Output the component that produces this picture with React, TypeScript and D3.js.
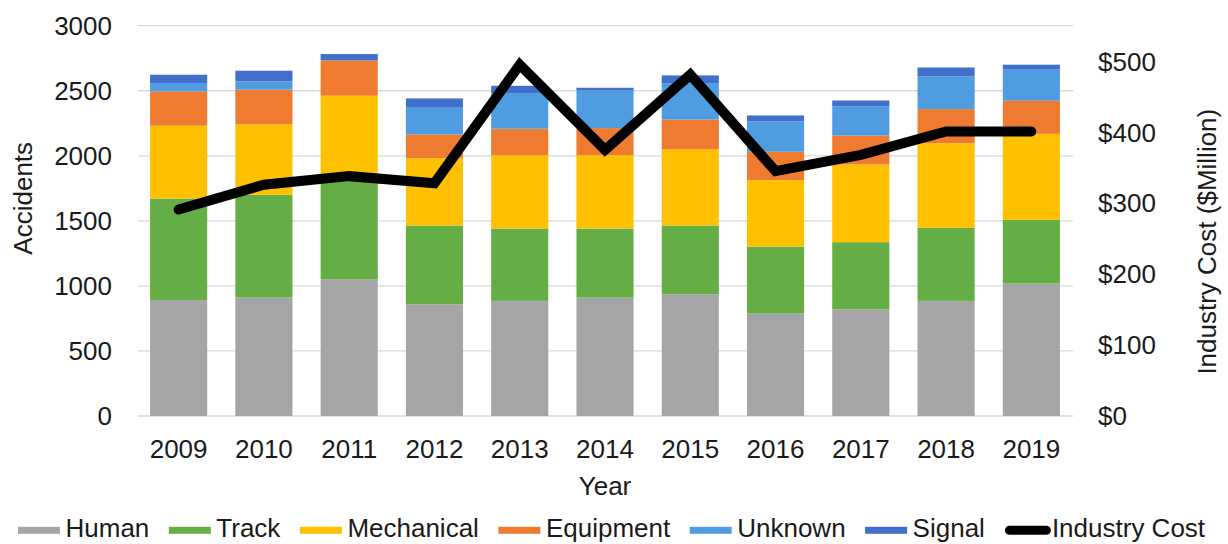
import React, { useEffect, useRef } from "react";
import * as d3 from "d3";

const years: string[] = ["2009", "2010", "2011", "2012", "2013", "2014", "2015", "2016", "2017", "2018", "2019"];

const human: number[] = [892, 910, 1051, 859, 885, 910, 936, 787, 820, 885, 1018];
const track: number[] = [780, 790, 784, 605, 556, 531, 528, 515, 516, 561, 490];
const mechanical: number[] = [559, 541, 627, 518, 564, 564, 587, 511, 597, 651, 661];
const equipment: number[] = [264, 267, 271, 182, 203, 208, 228, 218, 223, 262, 254];
const unknown: number[] = [64, 64, 0, 211, 274, 289, 280, 233, 223, 251, 239];
const signal: number[] = [64, 82, 49, 66, 56, 21, 59, 46, 46, 69, 38];

const industryCost: number[] = [291, 326, 338, 328, 495, 375, 481, 345, 368, 401, 401];

const seriesNames: string[] = ["Human", "Track", "Mechanical", "Equipment", "Unknown", "Signal"];
const seriesColors: string[] = ["#a5a5a5", "#64ae45", "#ffc000", "#ef7b30", "#4f9ce0", "#4070cc"];

const leftTicks: number[] = [0, 500, 1000, 1500, 2000, 2500, 3000];
const rightTicks: number[] = [0, 100, 200, 300, 400, 500];

const FONT = "'Liberation Sans', Arial, Helvetica, sans-serif";

const App: React.FC = () => {
  const svgRef = useRef<SVGSVGElement | null>(null);

  useEffect(() => {
    const svg = d3.select(svgRef.current);
    svg.selectAll("*").remove();

    const width = 1228;
    const height = 544;
    const plot = { left: 136, right: 1074, top: 25.7, bottom: 416 };

    const rows = years.map((y, i) => ({
      year: y,
      Human: human[i],
      Track: track[i],
      Mechanical: mechanical[i],
      Equipment: equipment[i],
      Unknown: unknown[i],
      Signal: signal[i],
    }));

    const stacked = d3.stack<any>().keys(seriesNames)(rows);

    const x = d3
      .scaleBand()
      .domain(years)
      .range([plot.left, plot.right])
      .paddingInner(0.33)
      .paddingOuter(0.165);

    const y = d3.scaleLinear().domain([0, 3000]).range([plot.bottom, plot.top]);
    const yRight = d3.scaleLinear().domain([0, 550]).range([plot.bottom, plot.top]);

    // gridlines
    svg
      .append("g")
      .selectAll("line")
      .data(leftTicks)
      .join("line")
      .attr("x1", plot.left + 2)
      .attr("x2", plot.right - 1)
      .attr("y1", (d) => y(d))
      .attr("y2", (d) => y(d))
      .attr("stroke", "#d9d9d9")
      .attr("stroke-width", 1.3);

    // bars
    svg
      .append("g")
      .selectAll("g")
      .data(stacked)
      .join("g")
      .attr("fill", (_, i) => seriesColors[i])
      .selectAll("rect")
      .data((d) => d)
      .join("rect")
      .attr("x", (d) => x(d.data.year)!)
      .attr("y", (d) => y(d[1]))
      .attr("width", x.bandwidth())
      .attr("height", (d) => Math.max(0, y(d[0]) - y(d[1])));

    // industry cost line
    const line = d3
      .line<number>()
      .x((_, i) => x(years[i])! + x.bandwidth() / 2)
      .y((d) => yRight(d));

    svg
      .append("path")
      .datum(industryCost)
      .attr("d", line)
      .attr("fill", "none")
      .attr("stroke", "#000")
      .attr("stroke-width", 10)
      .attr("stroke-linecap", "round")
      .attr("stroke-linejoin", "miter");

    // left axis labels
    svg
      .append("g")
      .selectAll("text")
      .data(leftTicks)
      .join("text")
      .attr("x", 112)
      .attr("y", (d) => y(d))
      .attr("dy", "0.36em")
      .attr("text-anchor", "end")
      .text((d) => String(d));

    // right axis labels
    svg
      .append("g")
      .selectAll("text")
      .data(rightTicks)
      .join("text")
      .attr("x", 1098)
      .attr("y", (d) => yRight(d))
      .attr("dy", "0.36em")
      .attr("text-anchor", "start")
      .text((d) => "$" + d);

    // x axis labels
    svg
      .append("g")
      .selectAll("text")
      .data(years)
      .join("text")
      .attr("x", (d) => x(d)! + x.bandwidth() / 2)
      .attr("y", 458.3)
      .attr("text-anchor", "middle")
      .text((d) => d);

    // axis titles
    svg
      .append("text")
      .attr("x", (plot.left + plot.right) / 2)
      .attr("y", 495)
      .attr("text-anchor", "middle")
      .text("Year");

    svg
      .append("text")
      .attr("transform", "translate(31.5,198.3) rotate(-90)")
      .attr("text-anchor", "middle")
      .text("Accidents");

    svg
      .append("text")
      .attr("transform", "translate(1216,241.7) rotate(-90)")
      .attr("text-anchor", "middle")
      .text("Industry Cost ($Million)");

    // legend
    const legend = svg.append("g");
    const items = [
      ...seriesNames.map((n, i) => ({ name: n, color: seriesColors[i], isLine: false })),
      { name: "Industry Cost", color: "#000", isLine: true },
    ];
    let cx = 18;
    const baseY = 537;
    const swatchY = 530.3;
    items.forEach((it) => {
      if (it.isLine) {
        legend
          .append("line")
          .attr("x1", cx + 5)
          .attr("x2", cx + 42)
          .attr("y1", swatchY)
          .attr("y2", swatchY)
          .attr("stroke", it.color)
          .attr("stroke-width", 9)
          .attr("stroke-linecap", "round");
      } else {
        legend
          .append("rect")
          .attr("x", cx)
          .attr("y", swatchY - 3.5)
          .attr("width", 42)
          .attr("height", 7)
          .attr("fill", it.color);
      }
      const t = legend
        .append("text")
        .attr("x", cx + 42 + 5.5)
        .attr("y", baseY)
        .text(it.name);
      const w = (t.node() as SVGTextElement).getComputedTextLength();
      cx += 42 + 5.5 + w + 19.5;
    });

    svg.attr("width", width).attr("height", height);
  }, []);

  return (
    <div style={{ position: "absolute", left: 0, top: 0, width: 1228, height: 544, background: "#fff" }}>
      <svg
        ref={svgRef}
        width={1228}
        height={544}
        style={{ display: "block", fontFamily: FONT, fontSize: 26, fill: "#1a1a1a" }}
      ></svg>
    </div>
  );
};

export default App;
